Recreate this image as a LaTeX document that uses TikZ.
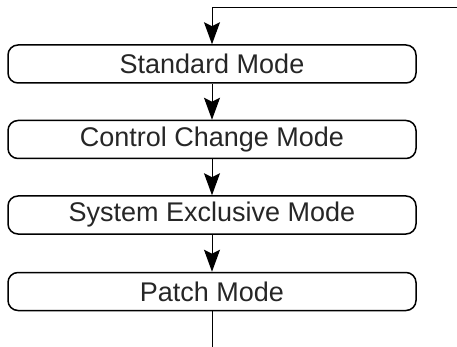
\documentclass[tikz,border=0pt]{standalone}
\usepackage{fontspec}
\setmainfont{Liberation Sans}
\usetikzlibrary{arrows.meta}
\begin{document}
\begin{tikzpicture}[x=1pt,y=-1pt,
  modebox/.style={draw, line width=1.5pt, rounded corners=10pt, minimum width=408pt, minimum height=38pt, inner sep=0pt, font=\fontsize{27}{31}\selectfont, text=black!85},
  flow/.style={line width=1pt, -{Stealth[length=22pt,width=16pt,inset=4pt]}}]
\useasboundingbox (0,0) rectangle (457,347);
\node[modebox] (s) at (212,64) {Standard Mode};
\node[modebox] (c) at (212,139.5) {Control Change Mode};
\node[modebox] (x) at (212,215) {System Exclusive Mode};
\node[modebox] (p) at (212,291.5) {Patch Mode};
\coordinate (tr) at (457,8);
\coordinate (bt) at (212,347);
\draw[flow] (tr) -- (212,8) -- (s.north);
\draw[flow] (s) -- (c);
\draw[flow] (c) -- (x);
\draw[flow] (x) -- (p);
\draw[line width=1pt] (p.south) -- (bt);
\end{tikzpicture}
\end{document}
